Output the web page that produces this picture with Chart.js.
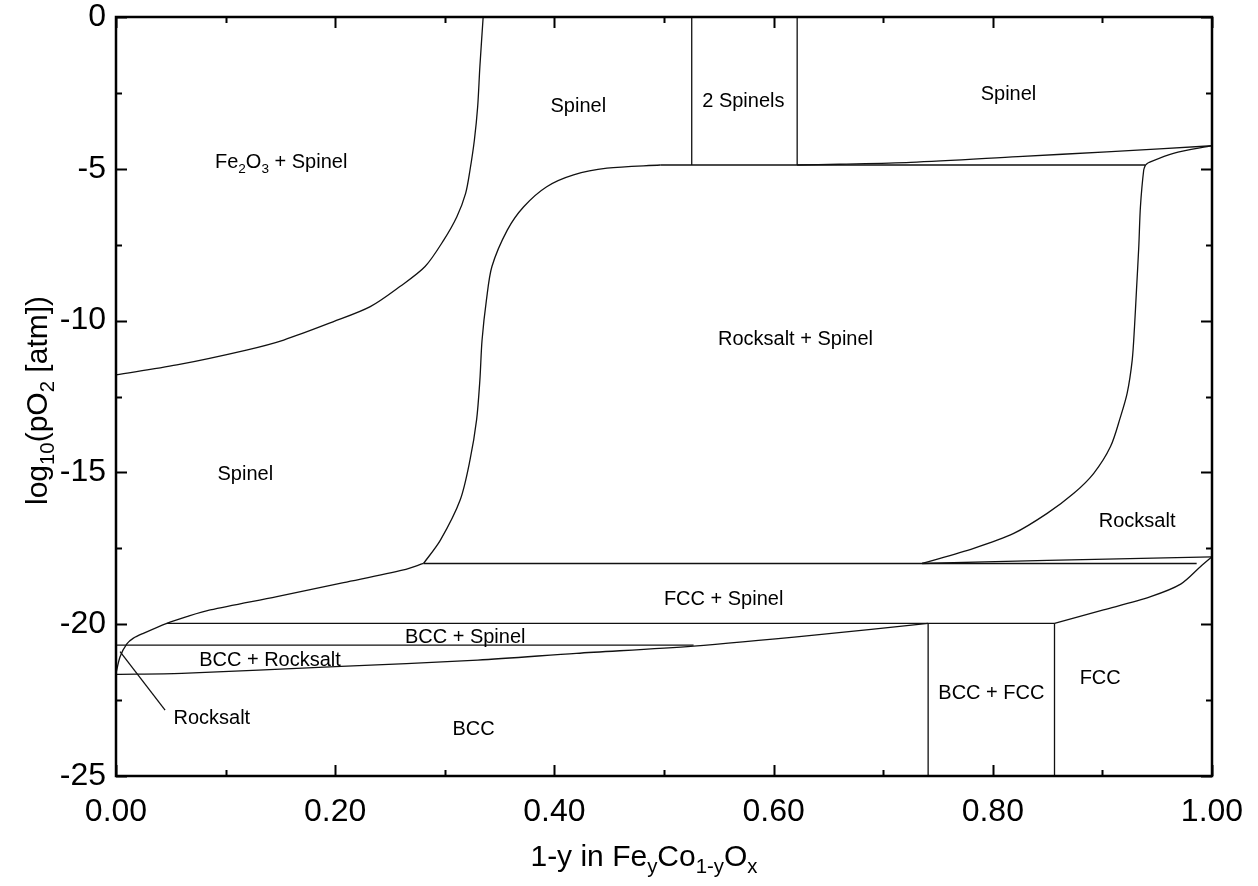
<!DOCTYPE html>
<html>
<head>
<meta charset="utf-8">
<title>Fe-Co-O phase diagram</title>
<script src="https://cdn.jsdelivr.net/npm/chart.js@4/dist/chart.umd.min.js"></script>
<style>
  html, body { margin: 0; padding: 0; background: #fff; }
  canvas { display: block; }
</style>
</head>
<body>
<canvas id="phase" width="1258" height="886"></canvas>
<script>
/* Phase boundaries, [x, log10 pO2] pairs. x = 1-y in FeyCo1-yOx */

// Fe2O3 + Spinel / Spinel
const fe2o3Edge = [[0, -11.79], [0.0555, -11.46], [0.119, -10.97], [0.153, -10.64], [0.198, -10.04],
  [0.232, -9.54], [0.259, -8.88], [0.282, -8.22], [0.299, -7.35], [0.311, -6.58], [0.319, -5.81],
  [0.323, -5.04], [0.327, -4.05], [0.330, -2.95], [0.332, -1.64], [0.335, 0]];

// left edge of the Rocksalt + Spinel field
const rsSpinelLeft = [[0.2806, -18.0], [0.296, -17.23], [0.314, -15.91], [0.323, -14.59], [0.329, -13.27],
  [0.332, -11.96], [0.334, -10.64], [0.338, -9.32], [0.343, -8.22], [0.357, -7.02], [0.372, -6.25],
  [0.393, -5.59], [0.4175, -5.20], [0.448, -4.98], [0.4966, -4.875]];

// right edge of the Rocksalt + Spinel field
const rsSpinelRight = [[0.7355, -18.0], [0.7826, -17.50], [0.8191, -17.01], [0.8496, -16.35], [0.8739, -15.69],
  [0.8921, -15.03], [0.9074, -14.15], [0.9165, -13.17], [0.9226, -12.39], [0.9272, -11.30], [0.9293, -10.20],
  [0.9311, -8.99], [0.9332, -7.56], [0.9347, -6.25], [0.9377, -5.04], [0.9393, -4.875]];

const rsSpinelTop = [[0.4966, -4.875], [0.9393, -4.875]];
const twoSpinelsLeft = [[0.5253, 0], [0.5253, -4.875]];
const twoSpinelsRight = [[0.6215, 0], [0.6215, -4.875]];
const spinelLower = [[0.6215, -4.875], [0.660, -4.85], [0.725, -4.79], [0.823, -4.60], [0.904, -4.44], [1.0, -4.24]];
const rocksaltCorner = [[0.9393, -4.875], [0.942, -4.80], [0.9648, -4.49], [1.0, -4.24]];

// Rocksalt / FCC + Spinel near -18
const rocksaltLower = [[0.7355, -18.0], [0.85, -17.9], [1.0, -17.78]];
const fccSpinelTop = [[0.2806, -18.0], [0.986, -18.0]];
const fccEdge = [[0.8563, -19.97], [0.901, -19.53], [0.944, -19.09], [0.9714, -18.68], [0.9896, -18.1], [1.0, -17.78]];

// lower edge of the Spinel field
const spinelLeftLower = [[0, -21.62], [0.0037, -21.07], [0.0099, -20.65], [0.0159, -20.46], [0.025, -20.30],
  [0.0464, -19.97], [0.0646, -19.75], [0.0859, -19.53], [0.1468, -19.09], [0.2076, -18.63], [0.2623, -18.21],
  [0.2806, -18.0]];

const bccSpinelTop = [[0.0464, -19.97], [0.8563, -19.97]];
const bccSpinelBottom = [[0, -20.69], [0.527, -20.69]];
const bccEdge = [[0, -21.65], [0.06, -21.62], [0.2, -21.40], [0.33, -21.18], [0.42, -20.96], [0.527, -20.72],
  [0.637, -20.36], [0.741, -19.97]];
const bccFccLeft = [[0.741, -19.97], [0.741, -25]];
const bccFccRight = [[0.8563, -19.97], [0.8563, -25]];
const rocksaltLeader = [[0.0037, -20.9], [0.0448, -22.83]];

// field names (_{} = subscript) and where they sit, in data units
const fieldNames = ['Fe_{2}O_{3} + Spinel', 'Spinel', '2 Spinels', 'Spinel', 'Rocksalt + Spinel', 'Spinel',
  'Rocksalt', 'FCC + Spinel', 'BCC + Spinel', 'BCC + Rocksalt', 'Rocksalt', 'BCC', 'BCC + FCC', 'FCC'];
const fieldX = [0.1507, 0.4218, 0.5724, 0.8143, 0.620, 0.118, 0.9317, 0.5544, 0.3186, 0.1405, 0.0874, 0.3262, 0.7987, 0.898];
const fieldY = [-4.74, -2.90, -2.73, -2.50, -10.57, -15.02, -16.57, -19.13, -20.39, -21.16, -23.05, -23.43, -22.23, -21.74];

const xMajor = [0, 0.2, 0.4, 0.6, 0.8, 1.0];
const xMinor = [0.1, 0.3, 0.5, 0.7, 0.9];
const yMajor = [0, -5, -10, -15, -20, -25];
const yMinor = [-2.5, -7.5, -12.5, -17.5, -22.5];

const xTitle = '1-y in Fe_{y}Co_{1-y}O_{x}';
const yTitle = 'log_{10}(pO_{2} [atm])';

const FONT = '"Liberation Sans", Arial, sans-serif';
const INK = '#111';

const curves = [fe2o3Edge, rsSpinelLeft, rsSpinelRight, rocksaltLower, fccEdge, spinelLeftLower, bccEdge, spinelLower, rocksaltCorner];
const straights = [rsSpinelTop, twoSpinelsLeft, twoSpinelsRight, fccSpinelTop, bccSpinelTop, bccSpinelBottom,
  bccFccLeft, bccFccRight, rocksaltLeader];

function toSet(pairs, tension) {
  return {
    data: pairs.map(([x, y]) => ({ x, y })),
    showLine: true,
    borderColor: INK,
    borderWidth: 1.3,
    pointRadius: 0,
    tension: tension,
    clip: 4,
  };
}

// split "Fe_{2}O_{3}" into [text, isSub] pieces
function parseRich(s) {
  const out = [];
  const re = /_\{([^}]*)\}/g;
  let last = 0, m;
  while ((m = re.exec(s))) {
    if (m.index > last) out.push([s.slice(last, m.index), false]);
    out.push([m[1], true]);
    last = re.lastIndex;
  }
  if (last < s.length) out.push([s.slice(last), false]);
  return out;
}

function richWidth(ctx, parts, size) {
  let w = 0;
  parts.forEach(([t, sub]) => {
    ctx.font = (sub ? size * 0.68 : size) + 'px ' + FONT;
    w += ctx.measureText(t).width;
  });
  return w;
}

// draws centred on x, with y as the baseline
function drawRich(ctx, s, x, y, size) {
  const parts = parseRich(s);
  let cx = x - richWidth(ctx, parts, size) / 2;
  ctx.textBaseline = 'alphabetic';
  ctx.textAlign = 'left';
  parts.forEach(([t, sub]) => {
    ctx.font = (sub ? size * 0.68 : size) + 'px ' + FONT;
    ctx.fillText(t, cx, y + (sub ? size * 0.24 : 0));
    cx += ctx.measureText(t).width;
  });
}

// frame with inward ticks, field names and axis titles
const decorations = {
  id: 'decorations',
  afterDatasetsDraw(chart) {
    const { ctx, chartArea: a, scales: { x, y } } = chart;
    ctx.save();
    ctx.fillStyle = '#000';
    fieldNames.forEach((name, i) => {
      drawRich(ctx, name, x.getPixelForValue(fieldX[i]), y.getPixelForValue(fieldY[i]) + 7, 20);
    });

    ctx.strokeStyle = '#000';
    ctx.lineWidth = 2;
    const tick = (vals, len) => {
      vals.forEach(v => {
        const px = Math.round(x.getPixelForValue(v)) + 0.5;
        ctx.beginPath();
        ctx.moveTo(px, a.bottom); ctx.lineTo(px, a.bottom - len);
        ctx.moveTo(px, a.top); ctx.lineTo(px, a.top + len);
        ctx.stroke();
      });
    };
    const tickY = (vals, len) => {
      vals.forEach(v => {
        const py = Math.round(y.getPixelForValue(v)) + 0.5;
        ctx.beginPath();
        ctx.moveTo(a.left, py); ctx.lineTo(a.left + len, py);
        ctx.moveTo(a.right, py); ctx.lineTo(a.right - len, py);
        ctx.stroke();
      });
    };
    tick(xMajor, 11); tick(xMinor, 6);
    tickY(yMajor, 11); tickY(yMinor, 6);

    ctx.lineWidth = 2.5;
    ctx.strokeRect(a.left, a.top, a.right - a.left, a.bottom - a.top);

    drawRich(ctx, xTitle, (a.left + a.right) / 2 - 20, a.bottom + 90, 30);
    ctx.translate(37, (a.top + a.bottom) / 2 + 4);
    ctx.rotate(-Math.PI / 2);
    drawRich(ctx, yTitle, 0, 10, 30);
    ctx.restore();
  }
};

new Chart(document.getElementById('phase'), {
  type: 'scatter',
  data: {
    datasets: [
      ...curves.map(c => toSet(c, 0.3)),
      ...straights.map(s => toSet(s, 0)),
    ],
  },
  options: {
    responsive: false,
    animation: false,
    events: [],
    layout: { padding: { top: 17, right: 46, left: 0, bottom: 0 } },
    plugins: { legend: { display: false }, tooltip: { enabled: false } },
    scales: {
      x: {
        type: 'linear', min: 0, max: 1,
        grid: { display: false, drawTicks: false },
        border: { display: false },
        ticks: {
          stepSize: 0.2, maxRotation: 0, padding: 17, color: '#000',
          font: { size: 32, family: FONT },
          callback: v => v.toFixed(2),
        },
        afterFit: s => { s.height = 110; s.paddingLeft = 0; s.paddingRight = 0; },
      },
      y: {
        type: 'linear', min: -25, max: 0,
        grid: { display: false, drawTicks: false },
        border: { display: false },
        ticks: {
          stepSize: 5, padding: 10, color: '#000',
          font: { size: 32, family: FONT },
        },
        afterFit: s => { s.width = 116; s.paddingTop = 0; s.paddingBottom = 0; },
      },
    },
  },
  plugins: [decorations],
});
</script>
</body>
</html>
